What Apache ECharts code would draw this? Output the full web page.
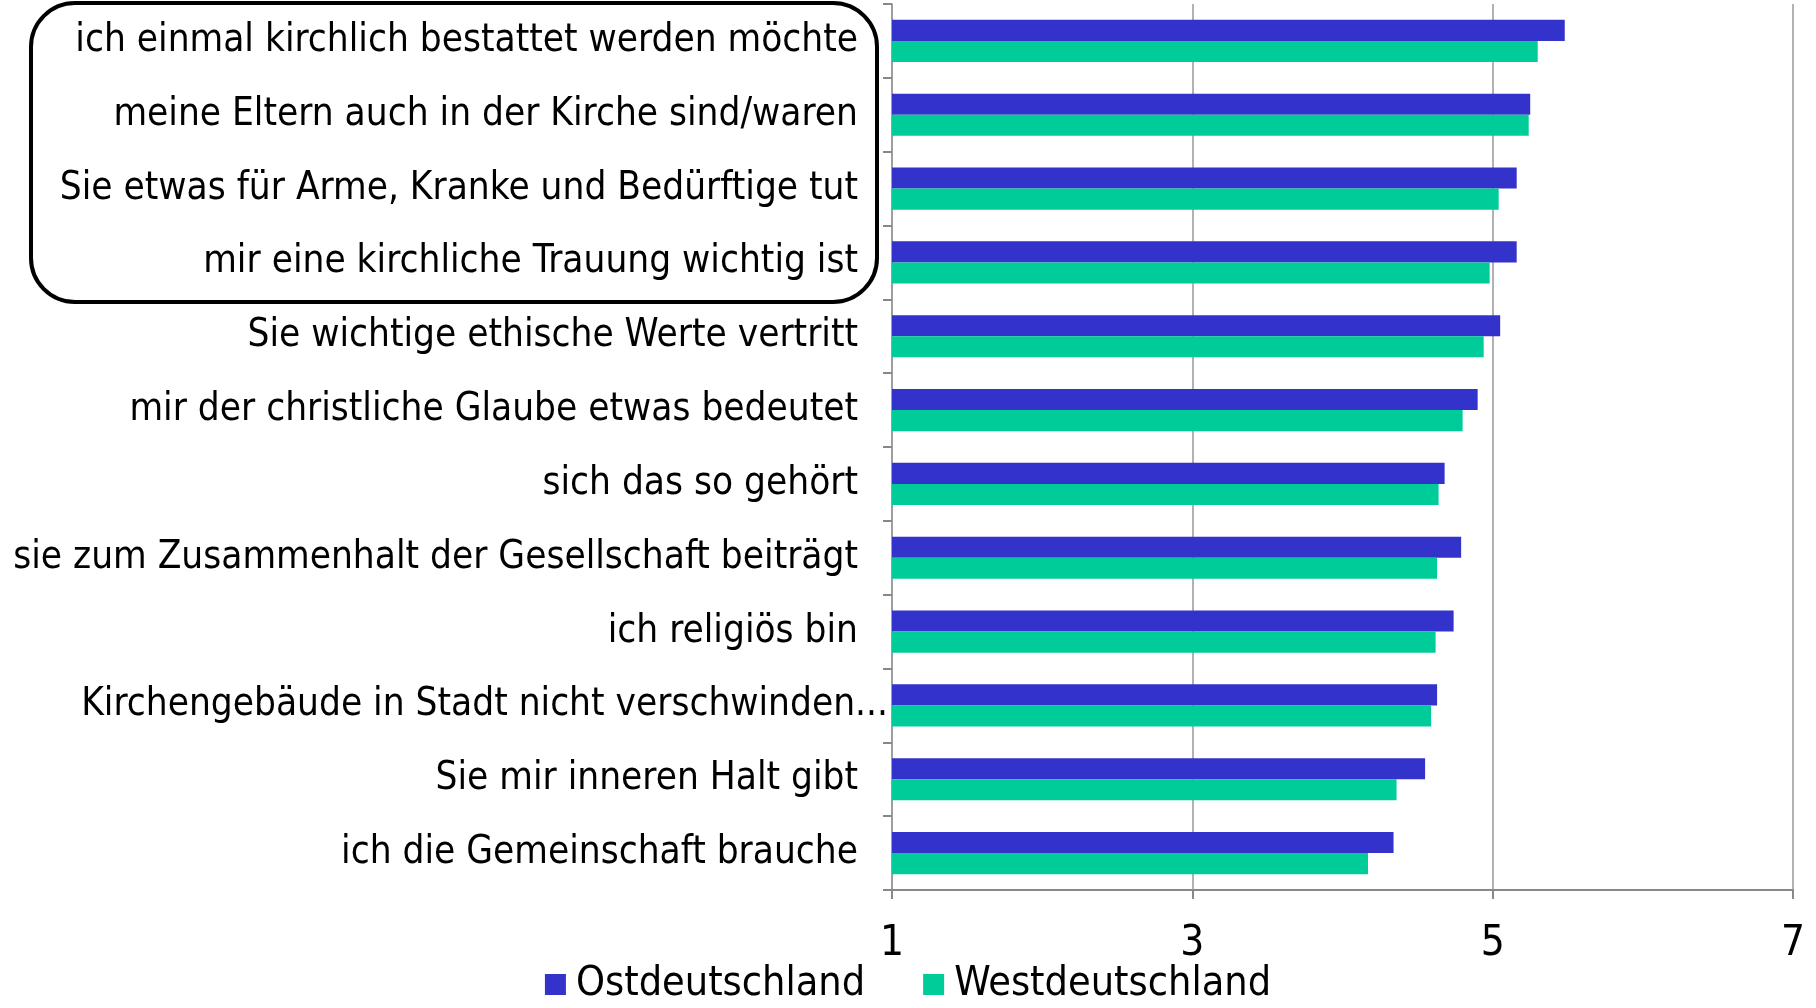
<!DOCTYPE html>
<html>
<head>
    <meta charset="utf-8">
    <title>ECharts</title>
    <script src="https://cdn.jsdelivr.net/npm/echarts@6/dist/echarts.min.js"></script>
    <style>
        html, body { margin: 0; padding: 0; background: #fff; }
    </style>
</head>
<body>
<div id="main" style="width: 1816px;height:1008px;"></div>
<script type="text/javascript">
    // Gründe (von oben nach unten)
    var categories = [
        'ich einmal kirchlich bestattet werden möchte',
        'meine Eltern auch in der Kirche sind/waren',
        'Sie etwas für Arme, Kranke und Bedürftige tut',
        'mir eine kirchliche Trauung wichtig ist',
        'Sie wichtige ethische Werte vertritt',
        'mir der christliche Glaube etwas bedeutet',
        'sich das so gehört',
        'sie zum Zusammenhalt der Gesellschaft beiträgt',
        'ich religiös bin',
        'Kirchengebäude in Stadt nicht verschwinden...',
        'Sie mir inneren Halt gibt',
        'ich die Gemeinschaft brauche'
    ];
    var ost = [5.48, 5.25, 5.16, 5.16, 5.05, 4.90, 4.68, 4.79, 4.74, 4.63, 4.55, 4.34];
    var west = [5.30, 5.24, 5.04, 4.98, 4.94, 4.80, 4.64, 4.63, 4.62, 4.59, 4.36, 4.17];
    var xTicks = [1, 3, 5, 7];

    var font = 'DejaVu Sans Condensed, DejaVu Sans, sans-serif';
    var myChart = echarts.init(document.getElementById('main'));

    // abgeschnittenes Label ragt im Original etwas über den Rand hinaus
    var yData = categories.map(function (c) {
        if (c.slice(-3) === '...') {
            return { value: c, textStyle: { padding: [0, -30, 0, 0] } };
        }
        return c;
    });

    myChart.setOption({
        animation: false,
        textStyle: { fontFamily: font },
        grid: { left: 892, right: 23, top: 4, bottom: 118 },
        legend: {
            data: ['Ostdeutschland', 'Westdeutschland'],
            left: 'center',
            top: 959,
            icon: 'rect',
            itemWidth: 21,
            itemHeight: 21,
            itemGap: 58,
            textStyle: { fontSize: 41, color: '#000', fontFamily: font, padding: [0, 0, 0, 5] }
        },
        xAxis: {
            type: 'value',
            min: xTicks[0],
            max: xTicks[xTicks.length - 1],
            interval: 2,
            axisLine: { show: true, lineStyle: { color: '#888', width: 2 } },
            axisTick: { show: true, length: 9, lineStyle: { color: '#888', width: 2 } },
            axisLabel: { fontSize: 42, color: '#000', margin: 33, fontFamily: font },
            splitLine: { show: true, lineStyle: { color: '#999', width: 1.5 } }
        },
        yAxis: {
            type: 'category',
            inverse: true,
            data: yData,
            axisLine: { show: true, lineStyle: { color: '#999', width: 1.5 } },
            axisTick: { show: true, length: 9, lineStyle: { color: '#888', width: 2 } },
            axisLabel: { fontSize: 38.4, color: '#000', margin: 34, fontFamily: font }
        },
        graphic: [{
            type: 'rect',
            shape: { x: 31, y: 3, width: 846, height: 299, r: 44 },
            style: { fill: 'none', stroke: '#000', lineWidth: 4 },
            z: 100
        }],
        series: [
            {
                name: 'Ostdeutschland',
                type: 'bar',
                data: ost,
                barGap: '0%',
                barCategoryGap: '43%',
                itemStyle: { color: '#3333CC' }
            },
            {
                name: 'Westdeutschland',
                type: 'bar',
                data: west,
                itemStyle: { color: '#00CC99' }
            }
        ]
    });
</script>
</body>
</html>
